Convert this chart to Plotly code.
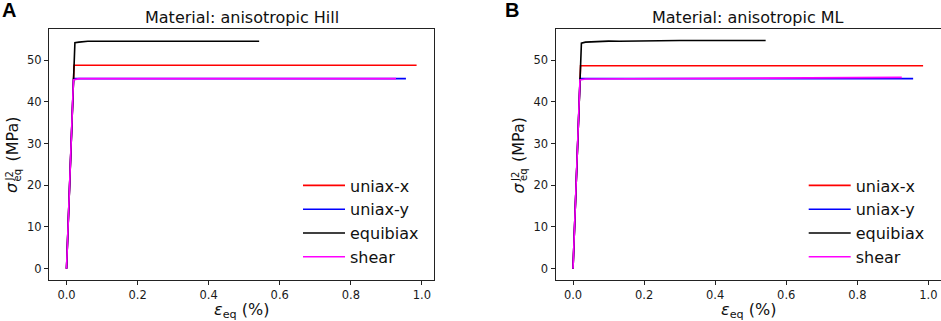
import plotly.graph_objects as go

W, H = 941, 321

# ---------------- data ----------------
names = ["uniax-x", "uniax-y", "equibiax", "shear"]
colors = ["#ff0000", "#0000ff", "#000000", "#ff00ff"]

# Panel A: anisotropic Hill
hill_uniax_x_eps = [0.0, 0.0212, 0.985]
hill_uniax_x_sig = [0.0, 48.8, 48.8]
hill_uniax_y_eps = [0.0, 0.0198, 0.955]
hill_uniax_y_sig = [0.0, 45.6, 45.6]
hill_equibiax_eps = [0.0, 0.0236, 0.035, 0.06, 0.1, 0.3, 0.542]
hill_equibiax_sig = [0.0, 54.2, 54.35, 54.55, 54.55, 54.55, 54.55]
hill_shear_eps = [0.0, 0.0195, 0.035, 0.927]
hill_shear_sig = [0.0, 45.3, 45.6, 45.6]

# Panel B: anisotropic ML
ml_uniax_x_eps = [0.0, 0.0212, 0.985]
ml_uniax_x_sig = [0.0, 48.7, 48.7]
ml_uniax_y_eps = [0.0, 0.0198, 0.957]
ml_uniax_y_sig = [0.0, 45.6, 45.6]
ml_equibiax_eps = [0.0, 0.0236, 0.035, 0.06, 0.1, 0.13, 0.2, 0.3, 0.4, 0.542]
ml_equibiax_sig = [0.0, 54.1, 54.35, 54.5, 54.6, 54.55, 54.7, 54.75, 54.75, 54.75]
ml_shear_eps = [0.0, 0.0195, 0.035, 0.3, 0.6, 0.925]
ml_shear_sig = [0.0, 45.3, 45.5, 45.65, 45.8, 45.9]

titles = ["Material: anisotropic Hill", "Material: anisotropic ML"]
panel_labels = ["A", "B"]
x_ticks = [0.0, 0.2, 0.4, 0.6, 0.8, 1.0]
y_ticks = [0, 10, 20, 30, 40, 50]

panels = [
    [(hill_uniax_x_eps, hill_uniax_x_sig), (hill_uniax_y_eps, hill_uniax_y_sig),
     (hill_equibiax_eps, hill_equibiax_sig), (hill_shear_eps, hill_shear_sig)],
    [(ml_uniax_x_eps, ml_uniax_x_sig), (ml_uniax_y_eps, ml_uniax_y_sig),
     (ml_equibiax_eps, ml_equibiax_sig), (ml_shear_eps, ml_shear_sig)],
]

FONT = "DejaVu Sans"


def px(x):
    return x / W


def py(y):
    return 1 - y / H


fig = go.Figure()

x_doms = [[px(49), px(434)], [px(555.5), px(940.5)]]
y_dom = [py(280), py(29)]
x_off = [0, 506.5]

for p in range(2):
    xa = "x" if p == 0 else "x2"
    ya = "y" if p == 0 else "y2"
    leg = "legend" if p == 0 else "legend2"
    for i, (ex, sy) in enumerate(panels[p]):
        fig.add_trace(go.Scatter(
            x=ex, y=sy, mode="lines", name=names[i],
            line=dict(color=colors[i], width=1.6),
            xaxis=xa, yaxis=ya, legend=leg,
            legendgroup=f"{p}_{i}", showlegend=True,
        ))

axis_common = dict(
    showgrid=False, zeroline=False, showline=True, mirror=True,
    linecolor="#222222", linewidth=1, ticks="outside", ticklen=4,
    tickcolor="#222222", tickwidth=1,
    tickfont=dict(family=FONT, size=11.5, color="#1a1a1a"),
)

for p in range(2):
    sfx = "" if p == 0 else "2"
    fig.layout[f"xaxis{sfx}"] = dict(
        axis_common, domain=x_doms[p], range=[-0.0493, 1.034],
        tickvals=x_ticks, ticktext=[f"{v:.1f}" for v in x_ticks],
        anchor="y" + sfx,
    )
    fig.layout[f"yaxis{sfx}"] = dict(
        axis_common, domain=y_dom, range=[-2.72, 57.5],
        tickvals=y_ticks, ticktext=[str(v) for v in y_ticks],
        anchor="x" + sfx,
    )

annotations = []
for p in range(2):
    o = x_off[p]
    cx = (49 + 434) / 2 + o
    # title
    annotations.append(dict(text=titles[p], x=px(cx), y=py(17), xref="paper", yref="paper",
                            xanchor="center", yanchor="middle", showarrow=False,
                            font=dict(family=FONT, size=16, color="#111111")))
    # x label
    annotations.append(dict(text="<i>ε</i><sub>eq</sub> (%)", x=px(cx), y=py(310),
                            xref="paper", yref="paper", xanchor="center", yanchor="middle",
                            showarrow=False,
                            font=dict(family=FONT, size=16, color="#111111")))
    # y label pieces
    annotations.append(dict(text="(MPa)", x=px(12 + o), y=py(139.5), xref="paper",
                            yref="paper", xanchor="center", yanchor="middle", showarrow=False,
                            textangle=-90, font=dict(family=FONT, size=16, color="#111111")))
    annotations.append(dict(text="<i>σ</i>", x=px(12 + o), y=py(188), xref="paper",
                            yref="paper", xanchor="center", yanchor="middle", showarrow=False,
                            textangle=-90, font=dict(family=FONT, size=16, color="#111111")))
    annotations.append(dict(text="J2", x=px(9.5 + o), y=py(177), xref="paper", yref="paper",
                            xanchor="center", yanchor="middle", showarrow=False, textangle=-90,
                            font=dict(family=FONT, size=10, color="#111111")))
    annotations.append(dict(text="eq", x=px(17.5 + o), y=py(175), xref="paper", yref="paper",
                            xanchor="center", yanchor="middle", showarrow=False, textangle=-90,
                            font=dict(family=FONT, size=10, color="#111111")))
    # panel letter
    annotations.append(dict(text=f"<b>{panel_labels[p]}</b>", x=px([0, 503][p]),
                            y=py(-3), xref="paper", yref="paper", xanchor="left",
                            yanchor="top", showarrow=False,
                            font=dict(family="Liberation Sans", size=20, color="#000000")))

legend_common = dict(
    bgcolor="rgba(255,255,255,0)", borderwidth=0, tracegroupgap=0,
    font=dict(family=FONT, size=16, color="#111111"),
    xanchor="left", yanchor="top", itemwidth=42,
)

fig.update_layout(
    width=W, height=H, margin=dict(l=0, r=0, t=0, b=0),
    paper_bgcolor="white", plot_bgcolor="white",
    annotations=annotations,
    legend=dict(legend_common, x=px(298), y=py(168.5)),
    legend2=dict(legend_common, x=px(803.7), y=py(168.5)),
)

# remove the browser's default 8px body margin so the figure fills the window exactly
fig.write_html(
    "out.html",
    config={"displayModeBar": False},
    post_script="document.body.style.margin='0px';document.body.style.overflow='hidden';",
)
